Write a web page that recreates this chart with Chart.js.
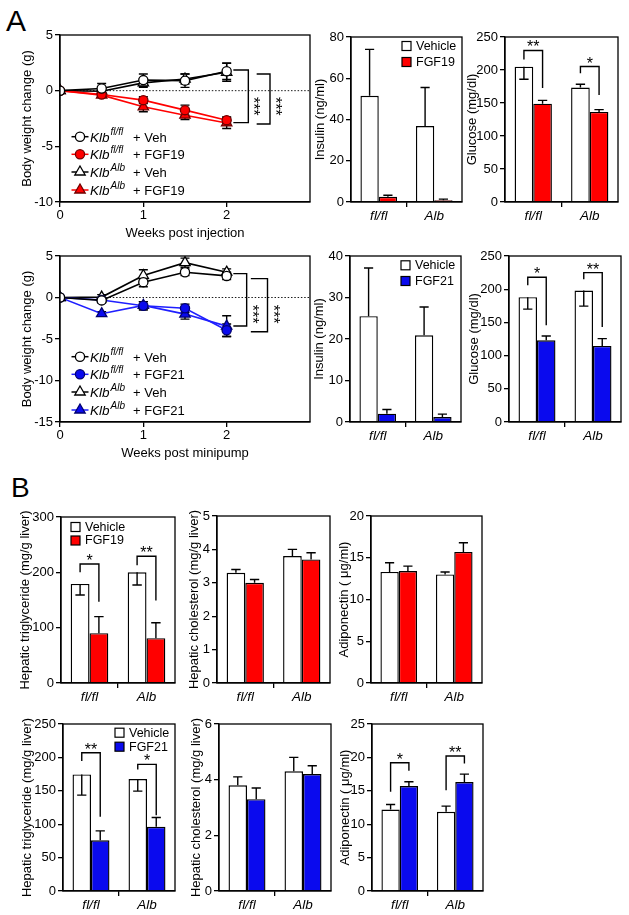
<!DOCTYPE html>
<html><head><meta charset="utf-8">
<script src="https://cdn.jsdelivr.net/npm/chart.js@4.4.1/dist/chart.umd.min.js"></script>
<style>
html,body{margin:0;padding:0;background:#fff}
body{width:629px;height:915px;position:relative;overflow:hidden;font-family:'Liberation Sans',Arial,sans-serif}
canvas{position:absolute}
.lab{position:absolute;line-height:1;color:#000;font-family:'Liberation Sans',Arial,sans-serif}
</style></head><body>
<div class="lab" style="left:6px;top:6px;font-size:30px">A</div>
<div class="lab" style="left:11px;top:474px;font-size:28px">B</div>
<script>
// ---------------- DATA ----------------
const weeks = [0, 0.5, 1, 1.5, 2];
const xTickValues = [0, 1, 2];
const genotypes = ['fl/fl', 'Alb'];

// Panel A top: body weight, FGF19
const bw19_flVeh = [0, 0.2, 0.95, 0.9, 1.75];
const bw19_flVeh_err = [0, 0.45, 0.55, 0.6, 0.75];
const bw19_flFgf = [0, -0.35, -0.85, -1.75, -2.65];
const bw19_flFgf_err = [0, 0.15, 0.3, 0.45, 0.3];
const bw19_albVeh = [0, -0.05, 0.7, 1.05, 1.65];
const bw19_albVeh_err = [0, 0.2, 0.4, 0.45, 0.8];
const bw19_albFgf = [0, -0.4, -1.45, -2.2, -2.9];
const bw19_albFgf_err = [0, 0.15, 0.45, 0.4, 0.5];
// brackets: [xStart, xBracket, yTop, yBottom, yStars, label]
const bw19_sig = [[2.08, 2.26, 1.86, -2.87, -1.4, '***'], [2.36, 2.52, 1.5, -3.0, -1.4, '***']];

// Panel A bottom: body weight, FGF21
const bw21_flVeh = [0, -0.35, 1.85, 3.05, 2.6];
const bw21_flVeh_err = [0, 0.25, 0.55, 0.4, 0.45];
const bw21_flFgf = [0, -0.3, -1.0, -1.3, -3.95];
const bw21_flFgf_err = [0, 0.2, 0.5, 0.5, 0.75];
const bw21_albVeh = [0, 0.05, 2.65, 4.2, 3.05];
const bw21_albVeh_err = [0, 0.3, 0.7, 0.55, 0.4];
const bw21_albFgf = [0, -1.95, -0.95, -2.0, -3.45];
const bw21_albFgf_err = [0, 0.25, 0.45, 0.6, 1.25];
const bw21_sig = [[2.08, 2.24, 2.88, -3.44, -2.0, '***'], [2.29, 2.49, 2.28, -4.13, -2.0, '***']];

// Insulin / glucose (bar value, error-bar end value)
const ins19_veh = [51.5, 36.8], ins19_veh_err = [74, 55.5];
const ins19_fgf = [2.5, 0.9], ins19_fgf_err = [3.3, 1.4];
const glu19_veh = [205, 173.5], glu19_veh_err = [186, 178.5];
const glu19_fgf = [149, 136.5], glu19_fgf_err = [154, 140];
// [category, top, left leg end, right leg end, label]
const glu19_sig = [[0, 229.6, 215.8, 172.8, '**'], [1, 205.3, 195.2, 162.3, '*']];

const ins21_veh = [25.5, 20.9], ins21_veh_err = [37.1, 27.7];
const ins21_fgf = [2.0, 1.2], ins21_fgf_err = [3.0, 1.9];
const glu21_veh = [188, 198], glu21_veh_err = [170, 174.5];
const glu21_fgf = [123, 114.5], glu21_fgf_err = [129.5, 125.5];
const glu21_sig = [[0, 218, 206, 145.6, '*'], [1, 225, 215, 143, '**']];

// Panel B, FGF19 row
const tg19_veh = [179, 200], tg19_veh_err = [159, 177];
const tg19_fgf = [90, 81], tg19_fgf_err = [120, 109];
const tg19_sig = [[0, 215, 200, 147, '*'], [1, 229, 213, 149, '**']];
const ch19_veh = [3.3, 3.8], ch19_veh_err = [3.4, 4.0];
const ch19_fgf = [3.0, 3.7], ch19_fgf_err = [3.1, 3.9];
const ad19_veh = [13.3, 13.0], ad19_veh_err = [14.4, 13.3];
const ad19_fgf = [13.4, 15.7], ad19_fgf_err = [14.0, 16.8];

// Panel B, FGF21 row
const tg21_veh = [174.5, 167.5], tg21_veh_err = [143.5, 149.5];
const tg21_fgf = [76, 96], tg21_fgf_err = [90, 110];
const tg21_sig = [[0, 207, 194.5, 111, '**'], [1, 189.5, 182, 113.5, '*']];
const ch21_veh = [3.8, 4.3], ch21_veh_err = [4.1, 4.8];
const ch21_fgf = [3.3, 4.2], ch21_fgf_err = [3.7, 4.5];
const ad21_veh = [12.2, 11.85], ad21_veh_err = [12.95, 12.7];
const ad21_fgf = [15.7, 16.3], ad21_fgf_err = [16.35, 17.5];
const ad21_sig = [[0, 19.2, 14.85, 18, '*'], [1, 20.2, 15.1, 19.1, '**']];

// ---------------- STYLE / HELPERS ----------------
const FONT = "'Liberation Sans', Arial, sans-serif";
Chart.defaults.font.family = FONT;
Chart.defaults.color = '#000';
const RED = '#ff0000', RED_DK = '#700000';
const BLUE = '#0a0aee', BLUE_LINE = '#1f1fff', BLUE_DK = '#000070';
const AX = 1.3;

function makeCanvas(plot, wy, hx, padT, padR) {
  const c = document.createElement('canvas');
  const left = plot[0] - wy, top = plot[1] - padT;
  const w = plot[2] - left + padR, h = plot[3] + hx - top;
  c.width = w; c.height = h;
  c.style.left = left + 'px'; c.style.top = top + 'px';
  c.style.width = w + 'px'; c.style.height = h + 'px';
  document.body.appendChild(c);
  return c;
}

function yScale(min, max, step, wy) {
  return {
    type: 'linear', min, max,
    ticks: { stepSize: step, font: { size: 13 }, color: '#000', padding: 2 },
    grid: { drawOnChartArea: false, drawTicks: true, tickLength: 5, color: '#000', lineWidth: AX },
    border: { color: '#000', width: AX },
    afterFit: s => { s.width = wy; }
  };
}

const framePlugin = { id: 'frame', afterDatasetsDraw(chart) {
  const a = chart.chartArea, ctx = chart.ctx;
  ctx.save(); ctx.strokeStyle = '#000'; ctx.lineWidth = AX;
  ctx.strokeRect(a.left, a.top, a.right - a.left, a.bottom - a.top);
  ctx.restore();
}};

function yTitlePlugin(text, off) { return { id: 'ytitle', afterDraw(chart) {
  const a = chart.chartArea, ctx = chart.ctx;
  ctx.save(); ctx.translate(a.left - off, (a.top + a.bottom) / 2); ctx.rotate(-Math.PI / 2);
  ctx.font = '13px ' + FONT; ctx.fillStyle = '#000'; ctx.textAlign = 'center'; ctx.textBaseline = 'middle';
  ctx.fillText(text, 0, 0); ctx.restore();
}}; }

function drawStars(ctx, label, x, y, rot) {
  ctx.save(); ctx.translate(x, y); if (rot) ctx.rotate(Math.PI / 2);
  ctx.font = '16px ' + FONT; ctx.fillStyle = '#000'; ctx.textAlign = 'center'; ctx.textBaseline = 'alphabetic';
  ctx.fillText(label, 0, 9); ctx.restore();
}

function drawMarker(ctx, shape, x, y, r, fill, stroke) {
  ctx.save(); ctx.beginPath();
  if (shape === 'circle') ctx.arc(x, y, r, 0, Math.PI * 2);
  else { let rad = 0; for (let k = 0; k < 3; k++) { const px = x + Math.sin(rad) * r, py = y - Math.cos(rad) * r; k ? ctx.lineTo(px, py) : ctx.moveTo(px, py); rad += 2 * Math.PI / 3; } ctx.closePath(); }
  ctx.fillStyle = fill; ctx.fill(); ctx.lineWidth = 1.3; ctx.strokeStyle = stroke; ctx.stroke(); ctx.restore();
}

// ---------------- BAR CHART ----------------
function barChart(o) {
  const WY = o.yOff + 12, HX = 26, PT = 24, PR = 6;
  const c = makeCanvas(o.plot, WY, HX, PT, PR);
  const series = [[o.veh, o.vehErr], [o.trt, o.trtErr]];
  const errPlugin = { id: 'barErr', afterDatasetsDraw(chart) {
    const ctx = chart.ctx, ys = chart.scales.y;
    series.forEach(([vals, ends], di) => {
      chart.getDatasetMeta(di).data.forEach((bar, i) => {
        const x = bar.x, y0 = ys.getPixelForValue(vals[i]), y1 = ys.getPixelForValue(ends[i]);
        const cap = bar.width * 0.25;
        ctx.save(); ctx.strokeStyle = '#000'; ctx.lineWidth = 1.4; ctx.beginPath();
        ctx.moveTo(x, y0); ctx.lineTo(x, y1); ctx.moveTo(x - cap, y1); ctx.lineTo(x + cap, y1);
        ctx.stroke(); ctx.restore();
      });
    });
    (o.sig || []).forEach(([cat, top, lb, rb, label]) => {
      const xl = chart.getDatasetMeta(0).data[cat].x, xr = chart.getDatasetMeta(1).data[cat].x;
      const yt = ys.getPixelForValue(top);
      ctx.save(); ctx.strokeStyle = '#000'; ctx.lineWidth = 1.4; ctx.beginPath();
      ctx.moveTo(xl, ys.getPixelForValue(lb)); ctx.lineTo(xl, yt); ctx.lineTo(xr, yt); ctx.lineTo(xr, ys.getPixelForValue(rb));
      ctx.stroke(); ctx.restore();
      drawStars(ctx, label, (xl + xr) / 2, yt - 7, false);
    });
  }};
  const legendPlugin = { id: 'barLegend', afterDraw(chart) {
    if (!o.legend) return;
    const a = chart.chartArea, ctx = chart.ctx, L = o.legend;
    const bx = L.side === 'right' ? a.right + L.dx : a.left + L.dx;
    [['Vehicle', '#fff'], [o.trtName, o.color]].forEach(([txt, col], k) => {
      const cy = a.top + L.y0 + k * L.dy;
      ctx.save(); ctx.fillStyle = col; ctx.fillRect(bx, cy - 4.5, 9, 9);
      ctx.strokeStyle = '#000'; ctx.lineWidth = 1.2; ctx.strokeRect(bx, cy - 4.5, 9, 9);
      ctx.font = '12.5px ' + FONT; ctx.fillStyle = '#000'; ctx.textBaseline = 'middle'; ctx.textAlign = 'left';
      ctx.fillText(txt, bx + 14, cy + 0.5); ctx.restore();
    });
  }};
  new Chart(c, {
    type: 'bar',
    data: { labels: genotypes, datasets: [
      { label: 'Vehicle', data: o.veh, backgroundColor: '#fff', borderColor: '#000', borderWidth: 1.4, barPercentage: 1, categoryPercentage: 0.66 },
      { label: o.trtName, data: o.trt, backgroundColor: o.color, borderColor: '#000', borderWidth: 1.4, barPercentage: 1, categoryPercentage: 0.66 }
    ]},
    options: {
      responsive: false, animation: false, devicePixelRatio: 1,
      layout: { padding: { left: 0, top: PT, right: PR, bottom: 0 } },
      plugins: { legend: { display: false }, tooltip: { enabled: false } },
      scales: {
        x: { type: 'category', offset: true,
          grid: { offset: true, drawOnChartArea: false, drawTicks: true, tickLength: 5, lineWidth: AX,
                  color: ctx => ctx.index === 1 ? '#000' : 'rgba(0,0,0,0)' },
          border: { color: '#000', width: AX },
          ticks: { font: { size: 13.5, style: 'italic' }, color: '#000', padding: 1, maxRotation: 0 },
          afterFit: s => { s.height = HX; } },
        y: yScale(o.min, o.max, o.step, WY)
      }
    },
    plugins: [framePlugin, errPlugin, legendPlugin, yTitlePlugin(o.yTitle, o.yOff)]
  });
}

// ---------------- LINE CHART ----------------
function lineChart(o) {
  const WY = 45, HX = 39, PT = 12, PR = 8;
  const c = makeCanvas(o.plot, WY, HX, PT, PR);
  const errPlugin = { id: 'lineErr', beforeDatasetsDraw(chart) {
    const ctx = chart.ctx, xs = chart.scales.x, ys = chart.scales.y, a = chart.chartArea;
    // dotted zero line
    ctx.save(); ctx.strokeStyle = '#000'; ctx.lineWidth = 0.9; ctx.setLineDash([1.5, 1.8]); ctx.beginPath();
    const y0 = ys.getPixelForValue(0); ctx.moveTo(a.left, y0); ctx.lineTo(a.right, y0); ctx.stroke(); ctx.restore();
    o.series.forEach(s => {
      weeks.forEach((w, i) => {
        if (!s.err[i]) return;
        const x = xs.getPixelForValue(w), yt = ys.getPixelForValue(s.vals[i] + s.err[i]), yb = ys.getPixelForValue(s.vals[i] - s.err[i]);
        ctx.save(); ctx.strokeStyle = '#000'; ctx.lineWidth = 1.4; ctx.beginPath();
        ctx.moveTo(x, yt); ctx.lineTo(x, yb); ctx.moveTo(x - 4.5, yt); ctx.lineTo(x + 4.5, yt); ctx.moveTo(x - 4.5, yb); ctx.lineTo(x + 4.5, yb);
        ctx.stroke(); ctx.restore();
      });
    });
  }, afterDatasetsDraw(chart) {
    const ctx = chart.ctx, xs = chart.scales.x, ys = chart.scales.y;
    o.sig.forEach(([x0, x1, yt, yb, yStar, label]) => {
      const px0 = xs.getPixelForValue(x0), px1 = xs.getPixelForValue(x1);
      const pt = ys.getPixelForValue(yt), pb = ys.getPixelForValue(yb);
      ctx.save(); ctx.strokeStyle = '#000'; ctx.lineWidth = 1.4; ctx.beginPath();
      ctx.moveTo(px0, pt); ctx.lineTo(px1, pt); ctx.lineTo(px1, pb); ctx.lineTo(px0, pb); ctx.stroke(); ctx.restore();
      drawStars(ctx, label, px1 + 9, ys.getPixelForValue(yStar), true);
    });
  }};
  const legendPlugin = { id: 'lineLegend', afterDraw(chart) {
    const a = chart.chartArea, ctx = chart.ctx;
    const rows = [65.3, 47.7, 30, 12];
    o.series.forEach((s, k) => {
      const cy = a.bottom - rows[k], x0 = a.left;
      ctx.save(); ctx.strokeStyle = s.line; ctx.lineWidth = 1.5; ctx.beginPath();
      ctx.moveTo(x0 + 11.5, cy); ctx.lineTo(x0 + 28.5, cy); ctx.stroke(); ctx.restore();
      drawMarker(ctx, s.shape, x0 + 20, cy, s.shape === 'circle' ? 4.6 : 6, s.fill, s.stroke);
      ctx.save(); ctx.fillStyle = '#000'; ctx.textBaseline = 'alphabetic'; ctx.textAlign = 'left';
      ctx.font = 'italic 13.5px ' + FONT; ctx.fillText('Klb', x0 + 30, cy + 5);
      const w = ctx.measureText('Klb').width;
      ctx.font = 'italic 10px ' + FONT; ctx.fillText(s.sup, x0 + 31 + w, cy - 1.5);
      ctx.font = '13px ' + FONT; ctx.fillText('+ ' + s.suffix, x0 + 73, cy + 5);
      ctx.restore();
    });
  }};
  new Chart(c, {
    type: 'line',
    data: { datasets: o.series.map(s => ({
      data: weeks.map((w, i) => ({ x: w, y: s.vals[i] })),
      borderColor: s.line, borderWidth: 1.6, tension: 0, fill: false,
      pointStyle: s.shape, pointRadius: s.shape === 'circle' ? 4.6 : 6,
      pointBackgroundColor: s.fill, pointBorderColor: s.stroke, pointBorderWidth: 1.3
    }))},
    options: {
      responsive: false, animation: false, devicePixelRatio: 1,
      layout: { padding: { left: 0, top: PT, right: PR, bottom: 0 } },
      plugins: { legend: { display: false }, tooltip: { enabled: false } },
      scales: {
        x: { type: 'linear', min: 0, max: 3,
          afterBuildTicks: s => { s.ticks = xTickValues.map(v => ({ value: v })); },
          grid: { drawOnChartArea: false, drawTicks: true, tickLength: 5, color: '#000', lineWidth: AX },
          border: { color: '#000', width: AX },
          ticks: { font: { size: 13 }, color: '#000', padding: 1, maxRotation: 0 },
          title: { display: true, text: o.xTitle, font: { size: 13 }, color: '#000', padding: 0 },
          afterFit: s => { s.height = HX; } },
        y: yScale(o.min, o.max, 5, WY)
      }
    },
    plugins: [errPlugin, framePlugin, legendPlugin, yTitlePlugin('Body weight change (g)', 33)]
  });
}

function seriesSet(vals, errs, col, colDk, lineCol, trt) {
  return [
    { vals: vals[0], err: errs[0], shape: 'circle', fill: '#fff', stroke: '#000', line: '#000', sup: 'fl/fl', suffix: 'Veh' },
    { vals: vals[1], err: errs[1], shape: 'circle', fill: col, stroke: colDk, line: lineCol, sup: 'fl/fl', suffix: trt },
    { vals: vals[2], err: errs[2], shape: 'triangle', fill: '#fff', stroke: '#000', line: '#000', sup: 'Alb', suffix: 'Veh' },
    { vals: vals[3], err: errs[3], shape: 'triangle', fill: col, stroke: colDk, line: lineCol, sup: 'Alb', suffix: trt }
  ];
}

// ---------------- BUILD ----------------
lineChart({ plot: [60, 35, 310, 202], min: -10, max: 5, xTitle: 'Weeks post injection', sig: bw19_sig,
  series: seriesSet([bw19_flVeh, bw19_flFgf, bw19_albVeh, bw19_albFgf], [bw19_flVeh_err, bw19_flFgf_err, bw19_albVeh_err, bw19_albFgf_err], RED, RED_DK, RED, 'FGF19') });
lineChart({ plot: [60, 256, 310, 422], min: -15, max: 5, xTitle: 'Weeks post minipump', sig: bw21_sig,
  series: seriesSet([bw21_flVeh, bw21_flFgf, bw21_albVeh, bw21_albFgf], [bw21_flVeh_err, bw21_flFgf_err, bw21_albVeh_err, bw21_albFgf_err], BLUE, BLUE_DK, BLUE_LINE, 'FGF21') });

barChart({ plot: [351, 37, 462, 202], min: 0, max: 80, step: 20, yTitle: 'Insulin (ng/ml)', yOff: 31,
  veh: ins19_veh, vehErr: ins19_veh_err, trt: ins19_fgf, trtErr: ins19_fgf_err, trtName: 'FGF19', color: RED,
  legend: { side: 'right', dx: -60, y0: 9, dy: 16 } });
barChart({ plot: [505, 37, 618, 202], min: 0, max: 250, step: 50, yTitle: 'Glucose (mg/dl)', yOff: 33,
  veh: glu19_veh, vehErr: glu19_veh_err, trt: glu19_fgf, trtErr: glu19_fgf_err, trtName: 'FGF19', color: RED, sig: glu19_sig });
barChart({ plot: [350, 256, 461, 422], min: 0, max: 40, step: 10, yTitle: 'Insulin (ng/ml)', yOff: 31,
  veh: ins21_veh, vehErr: ins21_veh_err, trt: ins21_fgf, trtErr: ins21_fgf_err, trtName: 'FGF21', color: BLUE,
  legend: { side: 'right', dx: -60, y0: 9.3, dy: 15.7 } });
barChart({ plot: [509, 256, 621, 422], min: 0, max: 250, step: 50, yTitle: 'Glucose (mg/dl)', yOff: 35,
  veh: glu21_veh, vehErr: glu21_veh_err, trt: glu21_fgf, trtErr: glu21_fgf_err, trtName: 'FGF21', color: BLUE, sig: glu21_sig });

barChart({ plot: [61, 517, 175, 683], min: 0, max: 300, step: 100, yTitle: 'Hepatic triglyceride (mg/g liver)', yOff: 36,
  veh: tg19_veh, vehErr: tg19_veh_err, trt: tg19_fgf, trtErr: tg19_fgf_err, trtName: 'FGF19', color: RED, sig: tg19_sig,
  legend: { side: 'left', dx: 10, y0: 10, dy: 13.5 } });
barChart({ plot: [217, 516, 330, 683], min: 0, max: 5, step: 1, yTitle: 'Hepatic cholesterol (mg/g liver)', yOff: 23,
  veh: ch19_veh, vehErr: ch19_veh_err, trt: ch19_fgf, trtErr: ch19_fgf_err, trtName: 'FGF19', color: RED });
barChart({ plot: [371, 516, 482, 683], min: 0, max: 20, step: 5, yTitle: 'Adiponectin ( \u03bcg/ml)', yOff: 27,
  veh: ad19_veh, vehErr: ad19_veh_err, trt: ad19_fgf, trtErr: ad19_fgf_err, trtName: 'FGF19', color: RED });

barChart({ plot: [63, 724, 175, 891], min: 0, max: 250, step: 50, yTitle: 'Hepatic triglyceride (mg/g liver)', yOff: 36,
  veh: tg21_veh, vehErr: tg21_veh_err, trt: tg21_fgf, trtErr: tg21_fgf_err, trtName: 'FGF21', color: BLUE, sig: tg21_sig,
  legend: { side: 'right', dx: -60, y0: 8.7, dy: 14 } });
barChart({ plot: [219, 724, 331, 891], min: 0, max: 6, step: 2, yTitle: 'Hepatic cholesterol (mg/g liver)', yOff: 23,
  veh: ch21_veh, vehErr: ch21_veh_err, trt: ch21_fgf, trtErr: ch21_fgf_err, trtName: 'FGF21', color: BLUE });
barChart({ plot: [372, 724, 483, 891], min: 0, max: 25, step: 5, yTitle: 'Adiponectin ( \u03bcg/ml)', yOff: 27,
  veh: ad21_veh, vehErr: ad21_veh_err, trt: ad21_fgf, trtErr: ad21_fgf_err, trtName: 'FGF21', color: BLUE, sig: ad21_sig });
</script>
</body></html>
